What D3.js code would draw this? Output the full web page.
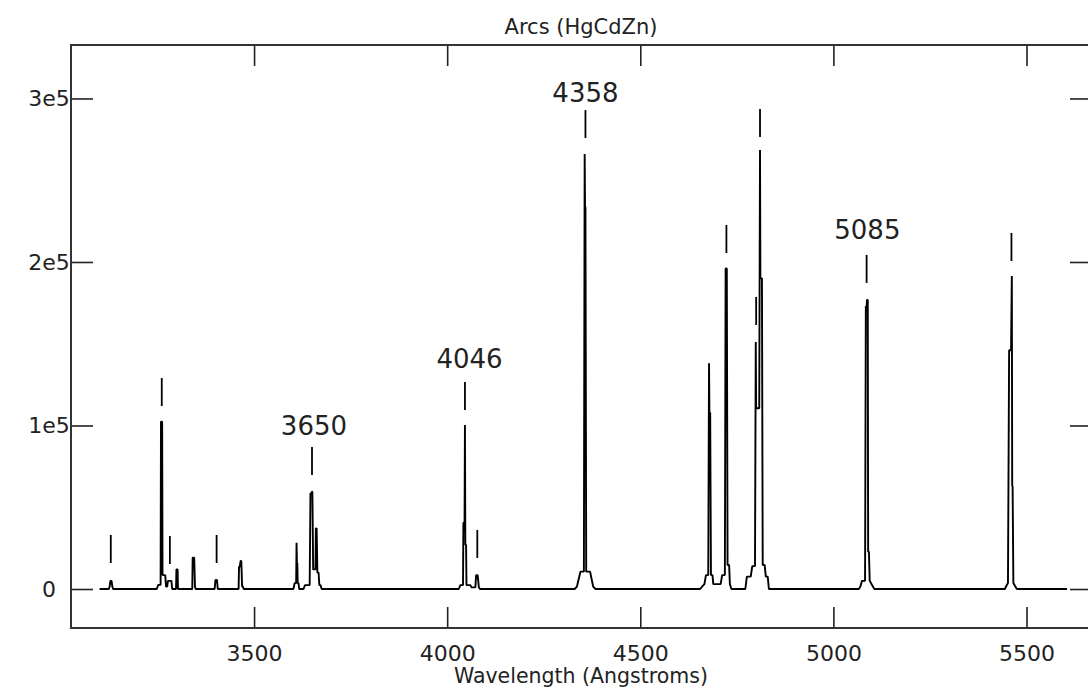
<!DOCTYPE html>
<html>
<head>
<meta charset="utf-8">
<script src="https://cdn.jsdelivr.net/npm/d3@7"></script>
<style>
  body { margin: 0; background: #fff; }
  text { font-family: "DejaVu Sans", sans-serif; fill: #222; }
</style>
</head>
<body>
<div id="chart"></div>
<script>
// arc lamp spectrum, vertices [wavelength, counts]
var spectrum = [
  [3100, 0], [3124, 0], [3126, 1500], [3128, 5000], [3131, 5000], [3133, 1500], [3135, 0],
  [3248, 0], [3252, 2500], [3258, 2500], [3259, 102300], [3262, 102300], [3263, 8500], [3270, 8500],
  [3272, 1500], [3275, 1500], [3277, 5000], [3286, 5000], [3288, 0],
  [3298, 0], [3299, 12000], [3302, 12000], [3303, 0],
  [3340, 0], [3341, 19100], [3345, 19100], [3347, 1500], [3349, 0],
  [3398, 0], [3400, 5500], [3404, 5500], [3406, 0],
  [3460, 0], [3461, 13600], [3463, 13600], [3465, 17100], [3467, 17100], [3469, 1500], [3471, 1500], [3473, 0],
  [3602, 0], [3605, 3600], [3609, 3600], [3610, 28300], [3611, 15900], [3612, 15900], [3613, 3600],
  [3615, 3600], [3617, 0],
  [3628, 0], [3632, 2400], [3644, 2400], [3646, 58500], [3649, 58500], [3650, 59500], [3651, 59500],
  [3653, 12000], [3659, 12000], [3660, 37100], [3662, 37100], [3664, 10000], [3667, 10000],
  [3669, 2400], [3672, 2400], [3675, 0],
  [4030, 0], [4034, 2400], [4041, 2400], [4042, 40500], [4045, 40500], [4046, 100300], [4047, 27000],
  [4049, 27000], [4050, 2400], [4060, 2400], [4063, 1000], [4073, 1000], [4075, 8500], [4079, 8500],
  [4082, 1000], [4085, 0],
  [4330, 0], [4336, 1500], [4345, 10600], [4354, 10600], [4356, 266000], [4357, 233800], [4358, 233800],
  [4360, 10600], [4370, 10600], [4378, 1500], [4384, 0],
  [4655, 0], [4660, 1500], [4666, 3000], [4670, 8500], [4676, 8500], [4678, 138000], [4679, 107800],
  [4681, 107800], [4683, 8500], [4687, 8500], [4689, 3000], [4708, 3000], [4712, 8500], [4719, 8500],
  [4721, 196000], [4724, 196000], [4726, 14700], [4730, 14700], [4732, 3000], [4736, 0],
  [4772, 0], [4776, 7600], [4786, 7600], [4790, 14000], [4797, 14000], [4799, 151000], [4800, 110500],
  [4808, 110500], [4810, 268500], [4811, 190000], [4815, 190000], [4817, 14700], [4822, 14700],
  [4825, 7600], [4830, 7600], [4833, 0],
  [5066, 0], [5070, 1500], [5074, 5000], [5082, 5000], [5084, 172700], [5086, 172700], [5087, 176800],
  [5089, 176800], [5090, 22800], [5092, 22800], [5094, 5000], [5100, 2500], [5106, 0],
  [5444, 0], [5448, 2000], [5452, 3700], [5455, 146000], [5460, 146000], [5462, 191400], [5463, 63000],
  [5464, 63000], [5466, 3700], [5470, 2000], [5475, 0],
  [5605, 0]
];

// identified lines: marker position and the level of its lower end
var markerWave = [3129, 3261, 3282, 3403, 3650, 4046, 4078, 4358, 4723, 4800, 4810, 5086, 5461];
var markerFlux = [15900, 111900, 15300, 15900, 69700, 109500, 19000, 275800, 205500, 161500, 276400, 187200, 200600];

// labelled lines
var labelText = ['3650', '4046', '4358', '5085'];
var labelWave = [3655, 4058, 4358, 5088];
var labelFlux = [94200, 135200, 298000, 214000];

var xTicks = [3500, 4000, 4500, 5000, 5500];
var yTicks = [0, 100000, 200000, 300000];

var svgWidth = 1088;
var svgHeight = 695;

var margin = { top: 45, right: -3, bottom: 67, left: 71 };
var width = svgWidth - margin.left - margin.right;
var height = svgHeight - margin.top - margin.bottom;

var svg = d3.select('#chart')
  .append('svg')
  .attr('width', svgWidth)
  .attr('height', svgHeight);

var chartGroup = svg.append('g')
  .attr('transform', `translate(${margin.left}, ${margin.top})`);

var xScale = d3.scaleLinear()
  .domain([3026, 5667])
  .range([0, width]);

var yScale = d3.scaleLinear()
  .domain([-23850, 332700])
  .range([height, 0]);

var fmtY = d => d === 0 ? '0' : (d / 1e5) + 'e5';

// axes, ticks pointing inwards on all four sides
var bottomAxis = d3.axisBottom(xScale).tickValues(xTicks).tickSize(-21).tickPadding(17).tickFormat(d3.format('d'));
var topAxis = d3.axisTop(xScale).tickValues(xTicks).tickSize(-21).tickFormat('');
var leftAxis = d3.axisLeft(yScale).tickValues(yTicks).tickSize(-22).tickFormat(fmtY);
var rightAxis = d3.axisLeft(yScale).tickValues(yTicks).tickSize(21).tickFormat('');

var gb = chartGroup.append('g').attr('transform', `translate(0, ${height})`).call(bottomAxis);
var gt = chartGroup.append('g').call(topAxis);
var gl = chartGroup.append('g').call(leftAxis);
var gr = chartGroup.append('g').attr('transform', `translate(${width}, 0)`).call(rightAxis);

[gb, gt, gl, gr].forEach(function(g) {
  g.select('.domain').remove();
  g.selectAll('.tick line').attr('stroke', '#222').attr('stroke-width', 1.6);
  g.selectAll('.tick text').style('font-size', '22px').attr('fill', '#222');
});

// y labels sit centred in the left margin
gl.selectAll('.tick text')
  .attr('x', -22)
  .attr('text-anchor', 'middle');

chartGroup.append('rect')
  .attr('x', 0)
  .attr('y', 0)
  .attr('width', width)
  .attr('height', height)
  .attr('fill', 'none')
  .attr('stroke', '#333')
  .attr('stroke-width', 2);

// spectrum
var line = d3.line()
  .x(d => xScale(d[0]))
  .y(d => yScale(d[1]));

chartGroup.append('path')
  .datum(spectrum)
  .attr('d', line)
  .attr('fill', 'none')
  .attr('stroke', '#000')
  .attr('stroke-width', 1.9)
  .attr('stroke-linejoin', 'bevel');

// line markers
chartGroup.selectAll('.marker')
  .data(markerWave)
  .enter()
  .append('line')
  .attr('class', 'marker')
  .attr('x1', d => xScale(d))
  .attr('x2', d => xScale(d))
  .attr('y1', (d, i) => yScale(markerFlux[i]))
  .attr('y2', (d, i) => yScale(markerFlux[i]) - 28)
  .attr('stroke', '#000')
  .attr('stroke-width', 1.8);

chartGroup.selectAll('.lineLabel')
  .data(labelText)
  .enter()
  .append('text')
  .attr('class', 'lineLabel')
  .attr('x', (d, i) => xScale(labelWave[i]))
  .attr('y', (d, i) => yScale(labelFlux[i]))
  .attr('text-anchor', 'middle')
  .style('font-size', '26px')
  .text(d => d);

svg.append('text')
  .attr('x', margin.left + width / 2)
  .attr('y', 34)
  .attr('text-anchor', 'middle')
  .style('font-size', '21px')
  .text('Arcs (HgCdZn)');

svg.append('text')
  .attr('x', margin.left + width / 2)
  .attr('y', 683)
  .attr('text-anchor', 'middle')
  .style('font-size', '20.5px')
  .text('Wavelength (Angstroms)');
</script>
</body>
</html>
